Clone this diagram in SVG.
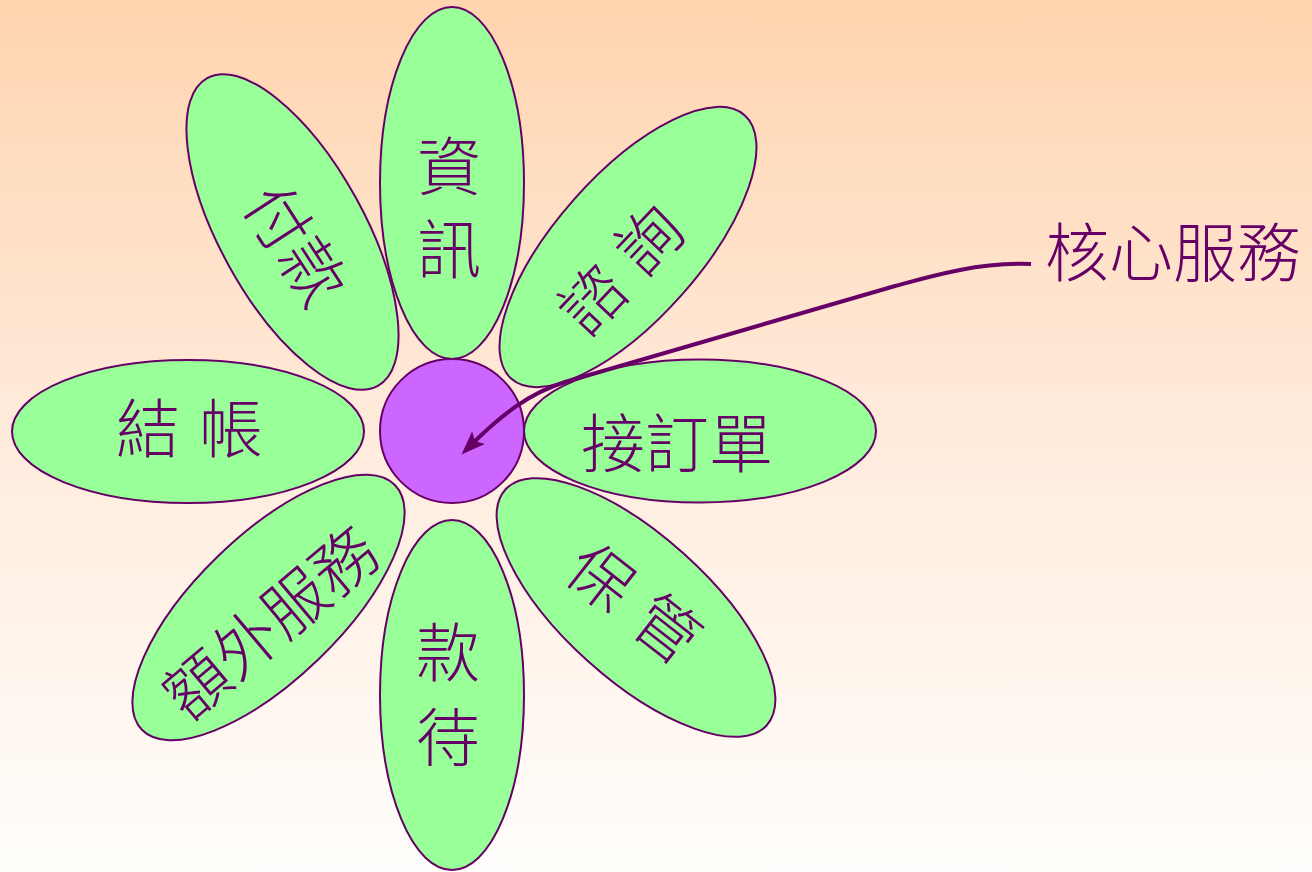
<svg xmlns="http://www.w3.org/2000/svg" width="1312" height="872" viewBox="0 0 1312 872">
  <defs>
    <linearGradient id="bg" x1="0" y1="0" x2="0" y2="1">
      <stop offset="0" stop-color="#FFD4AE"/>
      <stop offset="0.5" stop-color="#FFEBDC"/>
      <stop offset="1" stop-color="#FFFEFC"/>
    </linearGradient>
    <marker id="arr" markerWidth="28" markerHeight="24" refX="12" refY="12" orient="auto" markerUnits="userSpaceOnUse" viewBox="0 0 28 24">
      <path d="M0,3 L24,12 L0,21 L5,12 Z" fill="#660066"/>
    </marker>
    <style>
      .petal { fill: #99FF99; stroke: #660066; stroke-width: 2; }
      .core { fill: #CC66FF; stroke: #660066; stroke-width: 2; }
      .lbl { font-family: "Noto Sans CJK TC", "Noto Sans CJK SC", sans-serif; font-size: 64px; font-weight: 300; fill: #660066; text-anchor: middle; }
      .conn { fill: none; stroke: #660066; stroke-width: 4; }
    </style>
  </defs>
  <rect x="0" y="0" width="1312" height="872" fill="url(#bg)"/>

  <g id="petal-info">
    <ellipse class="petal" cx="452" cy="183" rx="72" ry="176"/>
    <text class="lbl" x="449" y="190">資</text>
    <text class="lbl" x="449" y="273">訊</text>
  </g>
  <g id="petal-consult">
    <ellipse class="petal" cx="628" cy="247" rx="72" ry="176" transform="rotate(41.5 628 247)"/>
    <text class="lbl" transform="translate(621 270) rotate(-46.5)" y="23" word-spacing="5">諮 詢</text>
  </g>
  <g id="petal-order">
    <ellipse class="petal" cx="700" cy="431" rx="176" ry="71.5"/>
    <text class="lbl" x="677" y="467">接訂單</text>
  </g>
  <g id="petal-keep">
    <ellipse class="petal" cx="636" cy="607.5" rx="72" ry="176" transform="rotate(-48 636 607.5)"/>
    <text class="lbl" transform="translate(633.5 603.5) rotate(38)" y="23" word-spacing="5">保 管</text>
  </g>
  <g id="petal-hospitality">
    <ellipse class="petal" cx="452" cy="695" rx="72" ry="175"/>
    <text class="lbl" x="448" y="676">款</text>
    <text class="lbl" x="448" y="761">待</text>
  </g>
  <g id="petal-extra">
    <ellipse class="petal" cx="268.5" cy="607.5" rx="72" ry="176" transform="rotate(46 268.5 607.5)"/>
    <text class="lbl" transform="translate(271 623.5) rotate(-40)" y="23">額外服務</text>
  </g>
  <g id="petal-billing">
    <ellipse class="petal" cx="188" cy="431.5" rx="176" ry="71.5"/>
    <text class="lbl" x="189.5" y="452" word-spacing="5">結 帳</text>
  </g>
  <g id="petal-payment">
    <ellipse class="petal" cx="292.5" cy="232" rx="72" ry="176" transform="rotate(-29 292.5 232)"/>
    <text class="lbl" transform="translate(295 245) rotate(57)" y="23">付款</text>
  </g>
  <g id="core">
    <circle class="core" cx="452" cy="431" r="72"/>
  </g>

  <g id="connectors">
    <path class="conn" d="M 1031 264 C 1005 263, 985 265, 960 270 C 930 276, 910 282, 895 286 L 565 382 C 530 393, 502 414, 470 446" marker-end="url(#arr)"/>
  </g>
  <g id="label-core">
    <text class="lbl" x="1045" y="276" style="text-anchor:start">核心服務</text>
  </g>
</svg>
